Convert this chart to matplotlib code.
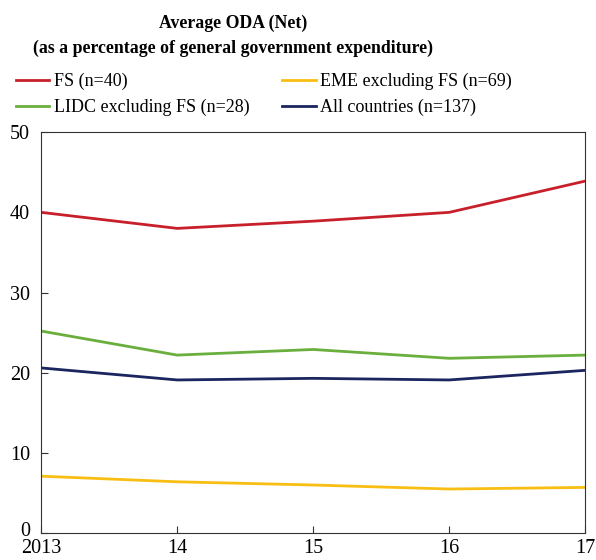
import matplotlib.pyplot as plt
import matplotlib.transforms as mtransforms

years = ["2013", "14", "15", "16", "17"]
fs = [40.0, 38.0, 38.9, 40.0, 43.9]
eme = [7.1, 6.4, 6.0, 5.5, 5.7]
lidc = [25.2, 22.2, 22.9, 21.8, 22.2]
all_countries = [20.6, 19.1, 19.3, 19.1, 20.3]

plt.rcParams["font.family"] = ["Liberation Serif", "DejaVu Serif"]

fig = plt.figure(figsize=(5.96, 5.60), dpi=100)
ax = fig.add_axes([0.069, 0.048, 0.913, 0.716])

x = range(len(years))
ax.plot(x, fs, color="#C8202A", lw=2, label="FS (n=40)")
ax.plot(x, eme, color="#F9BE13", lw=2, label="EME excluding FS (n=69)")
ax.plot(x, lidc, color="#6AAF3D", lw=2, label="LIDC excluding FS (n=28)")
ax.plot(x, all_countries, color="#1B2560", lw=2, label="All countries (n=137)")

ax.set_xlim(0, len(years) - 1)
ax.set_ylim(0, 50)
ax.set_xticks(list(x))
ax.set_xticklabels(years)
ax.set_yticks(range(0, 51, 10))
ax.tick_params(direction="in", labelsize=14.5, length=5, color="#333333")
ax.tick_params(axis="x", pad=4.5)
ax.tick_params(axis="y", pad=8)
for s in ax.spines.values():
    s.set_color("#333333")

# nudge the "0" label up a little so it clears "2013"
lab0 = ax.get_yticklabels()[0]
lab0.set_transform(lab0.get_transform() +
                   mtransforms.ScaledTranslation(0, 3 / 72, fig.dpi_scale_trans))

fig.text(0.391, 0.959, "Average ODA (Net)", ha="center", va="center",
         fontsize=12.8, fontweight="bold")
fig.text(0.391, 0.914, "(as a percentage of general government expenditure)",
         ha="center", va="center", fontsize=12.8, fontweight="bold")

h, l = ax.get_legend_handles_labels()
order = [0, 2, 1, 3]
fig.legend([h[i] for i in order], [l[i] for i in order], ncol=2,
           loc="upper left", bbox_to_anchor=(0.027, 0.870), frameon=False,
           fontsize=13, handlelength=1.85, handletextpad=0.25,
           columnspacing=1.8, labelspacing=0.5, borderaxespad=0,
           borderpad=0)

fig.savefig("out.png", dpi=100)
